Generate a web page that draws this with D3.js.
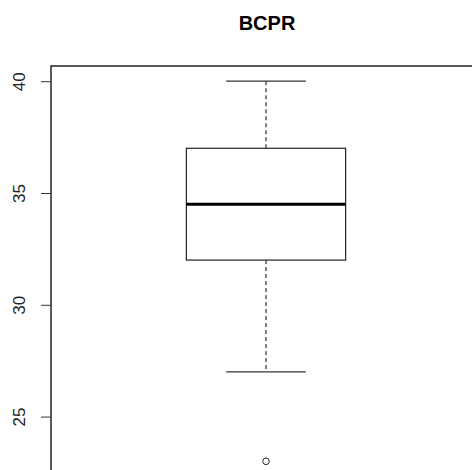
<!DOCTYPE html>
<html>
<head>
<meta charset="utf-8">
<script src="https://cdn.jsdelivr.net/npm/d3@7"></script>
<style>
  html, body { margin: 0; padding: 0; background: #fff; }
  svg { display: block; }
</style>
</head>
<body>
<svg id="chart" width="472" height="470"></svg>
<script>
// Five-number summary of BCPR plus the single outlier
const title = "BCPR";
const whiskerLow = 27;
const q1 = 32;
const median = 34.5;
const q3 = 37;
const whiskerHigh = 40;
const outliers = [23];
const yTicks = [25, 30, 35, 40];

const svg = d3.select("#chart");
const font = "'Liberation Sans', Arial, sans-serif";

// Plot region (the right and bottom edges run past the window)
const plotLeft = 51, plotRight = 481, plotTop = 66, plotBottom = 476.5;

// Data extent padded by 4% on each side, as in base R plots
const lo = Math.min(whiskerLow, ...outliers), hi = whiskerHigh;
const pad = (hi - lo) * 0.04;
const y = d3.scaleLinear().domain([lo - pad, hi + pad]).range([plotBottom, plotTop]);
const x = d3.scaleLinear().domain([0.46, 1.54]).range([plotLeft, plotRight]);

const boxHalf = 0.2, capHalf = 0.1, cx = 1;

// Title
svg.append("text")
  .attr("x", (plotLeft + plotRight) / 2 + 1)
  .attr("y", 30)
  .attr("text-anchor", "middle")
  .attr("font-family", font)
  .attr("font-weight", "bold")
  .attr("font-size", 20)
  .attr("fill", "#000")
  .text(title);

// Plot frame
svg.append("rect")
  .attr("x", plotLeft).attr("y", plotTop)
  .attr("width", plotRight - plotLeft).attr("height", plotBottom - plotTop)
  .attr("fill", "none").attr("stroke", "#000").attr("stroke-width", 1.3);

// Y axis ticks and rotated labels
const axis = d3.axisLeft(y).tickValues(yTicks).tickSize(10).tickSizeOuter(0).tickFormat(d3.format("d"));
const gAxis = svg.append("g").attr("transform", `translate(${plotLeft},0)`).call(axis);
gAxis.select(".domain").remove();
gAxis.selectAll(".tick line").attr("stroke", "#333").attr("stroke-width", 1);
gAxis.selectAll(".tick text")
  .attr("font-family", font)
  .attr("font-size", 17)
  .attr("fill", "#222")
  .attr("x", 0).attr("dy", 0)
  .attr("text-anchor", "middle")
  .attr("transform", "translate(-26,0) rotate(-90)");

const g = svg.append("g");

// Whiskers (dashed)
g.append("line")
  .attr("x1", x(cx)).attr("x2", x(cx))
  .attr("y1", y(q3)).attr("y2", y(whiskerHigh))
  .attr("stroke", "#000").attr("stroke-width", 1).attr("stroke-dasharray", "4,3");
g.append("line")
  .attr("x1", x(cx)).attr("x2", x(cx))
  .attr("y1", y(q1)).attr("y2", y(whiskerLow))
  .attr("stroke", "#000").attr("stroke-width", 1).attr("stroke-dasharray", "4,3");

// Staples
[whiskerHigh, whiskerLow].forEach(v => {
  g.append("line")
    .attr("x1", x(cx - capHalf)).attr("x2", x(cx + capHalf))
    .attr("y1", y(v)).attr("y2", y(v))
    .attr("stroke", "#333").attr("stroke-width", 1.2);
});

// Box
g.append("rect")
  .attr("x", x(cx - boxHalf)).attr("y", y(q3))
  .attr("width", x(cx + boxHalf) - x(cx - boxHalf))
  .attr("height", y(q1) - y(q3))
  .attr("fill", "none").attr("stroke", "#222").attr("stroke-width", 1.2);

// Median
g.append("line")
  .attr("x1", x(cx - boxHalf)).attr("x2", x(cx + boxHalf))
  .attr("y1", y(median)).attr("y2", y(median))
  .attr("stroke", "#000").attr("stroke-width", 3);

// Outliers
g.selectAll("circle.out").data(outliers).enter().append("circle")
  .attr("class", "out")
  .attr("cx", x(cx)).attr("cy", d => y(d)).attr("r", 3.3)
  .attr("fill", "none").attr("stroke", "#222").attr("stroke-width", 1);
</script>
</body>
</html>
